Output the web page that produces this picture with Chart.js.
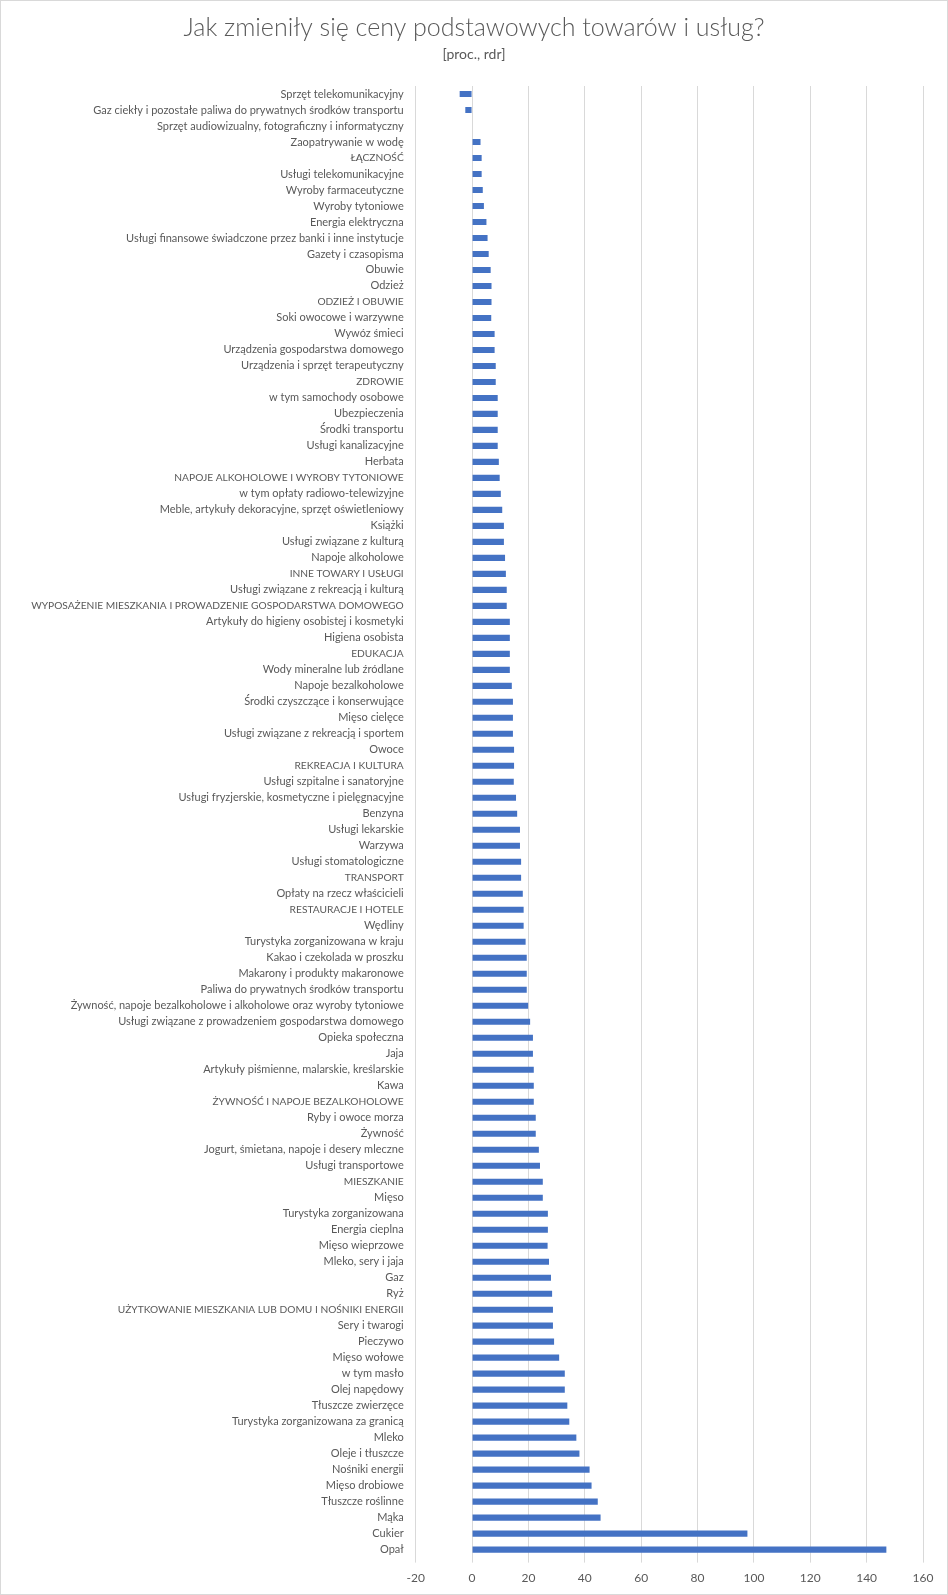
<!DOCTYPE html>
<html lang="pl">
<head>
<meta charset="UTF-8">
<title>Jak zmieniły się ceny podstawowych towarów i usług?</title>
<script src="https://cdn.jsdelivr.net/npm/chart.js"></script>
<style>
    body {
        margin: 0;
        padding: 0;
        background: #ffffff;
    }
    .ramka {
        width: 948px;
        height: 1595px;
        border: 1px solid #d9d9d9;
        box-sizing: border-box;
        position: relative;
    }
</style>
</head>
<body>

<div class="ramka">
    <canvas id="wykres"></canvas>
</div>

<script>
    // kategorie (od góry do dołu)
    const kategorie = [
        'Sprzęt telekomunikacyjny',
        'Gaz ciekły i pozostałe paliwa do prywatnych środków transportu',
        'Sprzęt audiowizualny, fotograficzny i informatyczny',
        'Zaopatrywanie w wodę',
        'ŁĄCZNOŚĆ',
        'Usługi telekomunikacyjne',
        'Wyroby farmaceutyczne',
        'Wyroby tytoniowe',
        'Energia elektryczna',
        'Usługi finansowe świadczone przez banki i inne instytucje',
        'Gazety i czasopisma',
        'Obuwie',
        'Odzież',
        'ODZIEŻ I OBUWIE',
        'Soki owocowe i warzywne',
        'Wywóz śmieci',
        'Urządzenia gospodarstwa domowego',
        'Urządzenia i sprzęt terapeutyczny',
        'ZDROWIE',
        'w tym samochody osobowe',
        'Ubezpieczenia',
        'Środki transportu',
        'Usługi kanalizacyjne',
        'Herbata',
        'NAPOJE ALKOHOLOWE I WYROBY TYTONIOWE',
        'w tym opłaty radiowo-telewizyjne',
        'Meble, artykuły dekoracyjne, sprzęt oświetleniowy',
        'Książki',
        'Usługi związane z kulturą',
        'Napoje alkoholowe',
        'INNE TOWARY I USŁUGI',
        'Usługi związane z rekreacją i kulturą',
        'WYPOSAŻENIE MIESZKANIA I PROWADZENIE GOSPODARSTWA DOMOWEGO',
        'Artykuły do higieny osobistej i kosmetyki',
        'Higiena osobista',
        'EDUKACJA',
        'Wody mineralne lub źródlane',
        'Napoje bezalkoholowe',
        'Środki czyszczące i konserwujące',
        'Mięso cielęce',
        'Usługi związane z rekreacją i sportem',
        'Owoce',
        'REKREACJA I KULTURA',
        'Usługi szpitalne i sanatoryjne',
        'Usługi fryzjerskie, kosmetyczne i pielęgnacyjne',
        'Benzyna',
        'Usługi lekarskie',
        'Warzywa',
        'Usługi stomatologiczne',
        'TRANSPORT',
        'Opłaty na rzecz właścicieli',
        'RESTAURACJE I HOTELE',
        'Wędliny',
        'Turystyka zorganizowana w kraju',
        'Kakao i czekolada w proszku',
        'Makarony i produkty makaronowe',
        'Paliwa do prywatnych środków transportu',
        'Żywność, napoje bezalkoholowe i alkoholowe oraz wyroby tytoniowe',
        'Usługi związane z prowadzeniem gospodarstwa domowego',
        'Opieka społeczna',
        'Jaja',
        'Artykuły piśmienne, malarskie, kreślarskie',
        'Kawa',
        'ŻYWNOŚĆ I NAPOJE BEZALKOHOLOWE',
        'Ryby i owoce morza',
        'Żywność',
        'Jogurt, śmietana, napoje i desery mleczne',
        'Usługi transportowe',
        'MIESZKANIE',
        'Mięso',
        'Turystyka zorganizowana',
        'Energia cieplna',
        'Mięso wieprzowe',
        'Mleko, sery i jaja',
        'Gaz',
        'Ryż',
        'UŻYTKOWANIE MIESZKANIA LUB DOMU I NOŚNIKI ENERGII',
        'Sery i twarogi',
        'Pieczywo',
        'Mięso wołowe',
        'w tym masło',
        'Olej napędowy',
        'Tłuszcze zwierzęce',
        'Turystyka zorganizowana za granicą',
        'Mleko',
        'Oleje i tłuszcze',
        'Nośniki energii',
        'Mięso drobiowe',
        'Tłuszcze roślinne',
        'Mąka',
        'Cukier',
        'Opał'
    ];

    // zmiana cen [proc., rdr]
    const zmiana = [
        -4.4, -2.4, 0, 3.0, 3.4, 3.4, 3.8, 4.2, 5.1, 5.5,
        5.9, 6.6, 6.9, 6.9, 6.8, 8.0, 8.0, 8.4, 8.4, 9.1,
        9.1, 9.1, 9.1, 9.5, 9.8, 10.2, 10.7, 11.3, 11.3, 11.7,
        12.0, 12.3, 12.3, 13.4, 13.4, 13.4, 13.4, 14.1, 14.5, 14.5,
        14.5, 14.9, 14.9, 14.8, 15.6, 16.0, 17.0, 17.0, 17.4, 17.4,
        18.0, 18.3, 18.3, 19.0, 19.4, 19.4, 19.4, 19.9, 20.6, 21.6,
        21.6, 21.9, 21.9, 21.9, 22.6, 22.6, 23.7, 24.1, 25.1, 25.1,
        26.9, 26.9, 26.8, 27.3, 28.0, 28.4, 28.7, 28.7, 29.1, 30.9,
        32.9, 32.9, 33.8, 34.5, 37.0, 38.1, 41.7, 42.4, 44.6, 45.6,
        97.7, 147.0
    ];

    const osX = { min: -20, max: 160, krok: 20 };

    const szary = '#595959';
    const czcionka = "Lato, 'Noto Sans', sans-serif";

    // etykiety pisane wersalikami sa w oryginale nieco wezsze
    function czcionkaEtykiety(ctx) {
        const t = ctx.tick ? String(ctx.tick.label) : '';
        const wersaliki = t.length > 0 && t === t.toUpperCase();
        return { family: czcionka, size: wersaliki ? 10.2 : 11 };
    }

    new Chart(document.getElementById('wykres'), {
        type: 'bar',
        data: {
            labels: kategorie,
            datasets: [{
                data: zmiana,
                backgroundColor: '#4472C4',
                borderWidth: 0,
                categoryPercentage: 1,
                barPercentage: 0.38
            }]
        },
        options: {
            indexAxis: 'y',
            responsive: true,
            maintainAspectRatio: false,
            animation: false,
            layout: {
                // symetrycznie, zeby tytul byl na srodku calego obrazka
                padding: { left: 24, right: 24, top: 0, bottom: 1 }
            },
            plugins: {
                legend: { display: false },
                tooltip: { enabled: false },
                title: {
                    display: true,
                    text: 'Jak zmieniły się ceny podstawowych towarów i usług?',
                    color: szary,
                    font: { family: czcionka, size: 25, weight: 300 },
                    padding: { top: 11.8, bottom: 3.2 }
                },
                subtitle: {
                    display: true,
                    text: '[proc., rdr]',
                    color: szary,
                    font: { family: czcionka, size: 14, weight: 400 },
                    padding: { top: 0, bottom: 23.2 }
                }
            },
            scales: {
                x: {
                    min: osX.min,
                    max: osX.max,
                    border: { display: false },
                    grid: {
                        color: '#d9d9d9',
                        lineWidth: 1,
                        drawTicks: true,
                        tickLength: 5
                    },
                    ticks: {
                        stepSize: osX.krok,
                        color: szary,
                        padding: 8,
                        font: { family: czcionka, size: 12 }
                    }
                },
                y: {
                    border: { display: false },
                    grid: { display: false },
                    afterFit: function (scale) {
                        scale.width = 390.7;
                    },
                    ticks: {
                        autoSkip: false,
                        color: szary,
                        padding: 4,
                        font: czcionkaEtykiety
                    }
                }
            }
        }
    });
</script>

</body>
</html>
